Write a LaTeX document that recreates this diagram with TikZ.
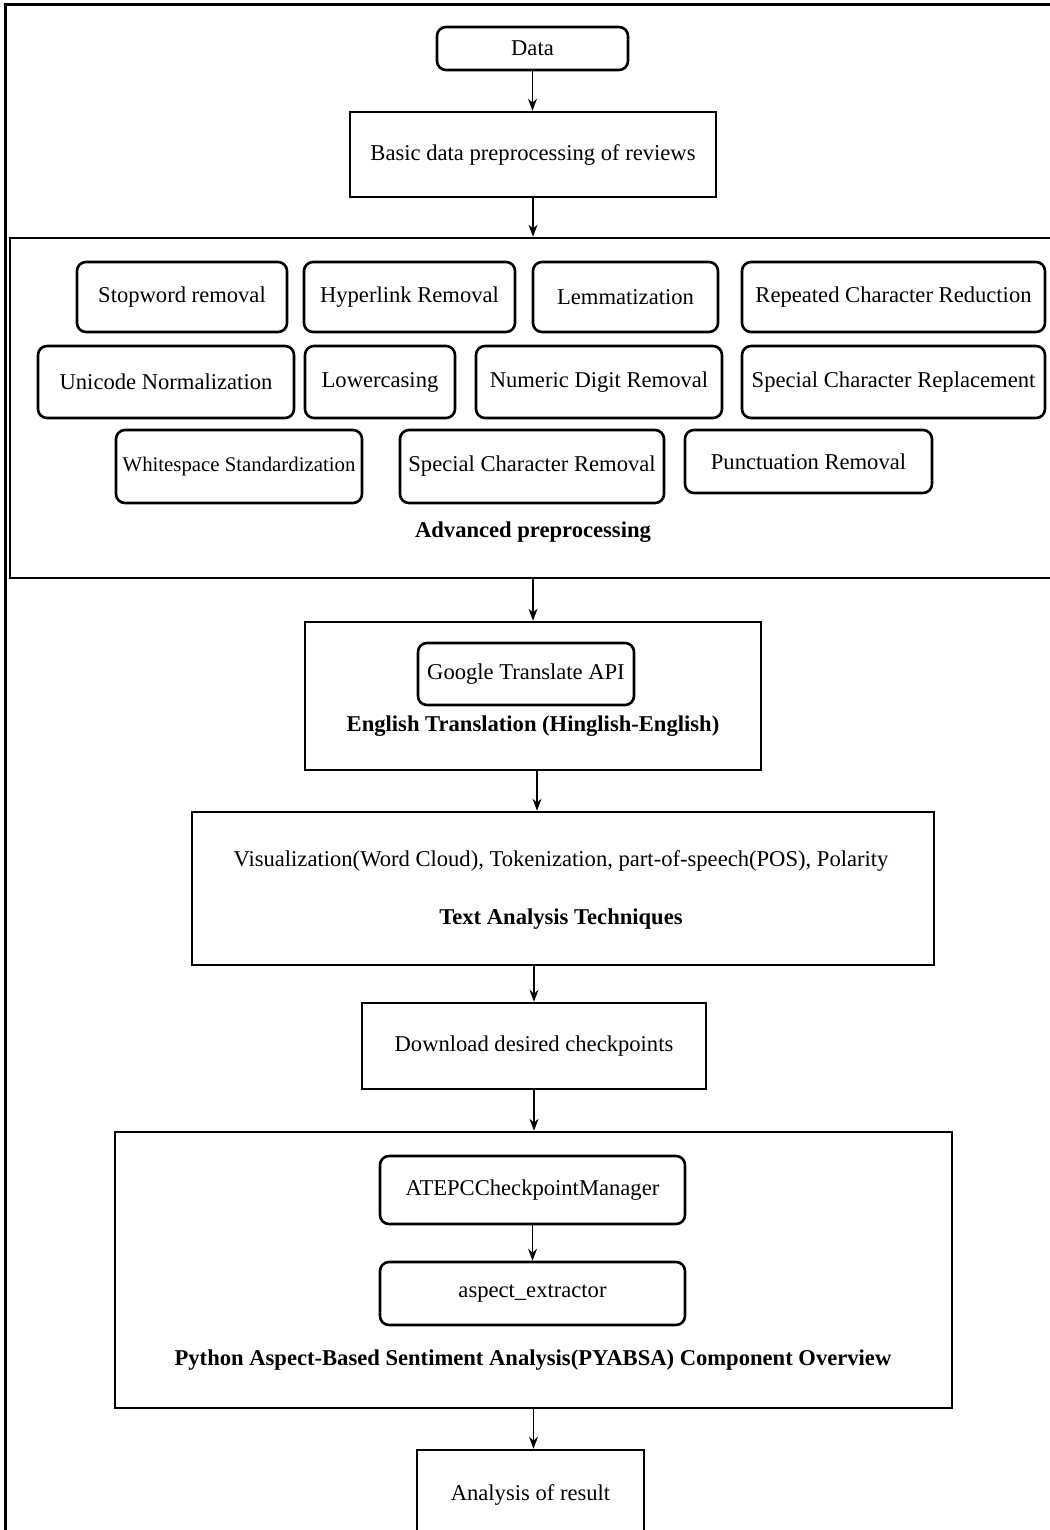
\documentclass[tikz,border=0pt]{standalone}
\usepackage{fontspec}
\setmainfont{Liberation Serif}
\usetikzlibrary{arrows.meta,calc}
\begin{document}
\begin{tikzpicture}[x=0.5pt,y=-0.5pt,
  wh/.style 2 args={minimum width=#1*0.5pt, minimum height=#2*0.5pt},
  pbox/.style={draw, line width=1.3pt, inner sep=0pt, font=\fontsize{11.3}{13}\selectfont},
  rbox/.style={draw, line width=1.3pt, rounded corners=4.5pt, inner sep=0pt, font=\fontsize{11.3}{13}\selectfont},
  lbl/.style={inner sep=0pt, font=\fontsize{11.3}{13}\selectfont},
  arr/.style={-{Stealth[length=6pt,width=4.5pt]}, line width=0.6pt}]
\useasboundingbox (0,0) rectangle (1049,1530);
% outer frame
\draw[line width=1.5pt] (5,1545) -- (5,5) -- (1060,5);

\node[rbox, wh={191}{43}] (data) at (532.5,48.5) {Data};
\node[pbox, wh={366}{85}] (basic) at (533,154.5) {Basic data preprocessing of reviews};

\node[pbox, wh={1060}{340}] (adv) at (540,408) {};
\node[rbox, wh={210}{70}] (stop) at (182,297) {Stopword removal};
\node[rbox, wh={211}{70}] (hyper) at (409.5,297) {Hyperlink Removal};
\node[rbox, wh={185}{70}] (lemma) at (625.5,297) {Lemmatization};
\node[rbox, wh={303}{70}] (rep) at (893.5,297) {Repeated Character Reduction};
\node[rbox, wh={256}{72}] (uni) at (166,382) {Unicode Normalization};
\node[rbox, wh={150}{72}] (low) at (380,382) {Lowercasing};
\node[rbox, wh={246}{72}] (num) at (599,382) {Numeric Digit Removal};
\node[rbox, wh={303}{72}] (srep) at (893.5,382) {Special Character Replacement};
\node[rbox, wh={246}{73}, font=\fontsize{10.4}{12}\selectfont] (white) at (239,466.5) {Whitespace Standardization};
\node[rbox, wh={264}{73}] (srem) at (532,466.5) {Special Character Removal};
\node[rbox, wh={247}{63}] (punct) at (808.5,461.5) {Punctuation Removal};
\node[lbl] (advlbl) at (533,532) {\bfseries Advanced preprocessing};

\node[pbox, wh={456}{148}] (eng) at (533,696) {};
\node[rbox, wh={216}{62}] (google) at (526,674) {Google Translate API};
\node[lbl] (englbl) at (533,726) {\bfseries English Translation (Hinglish-English)};

\node[pbox, wh={742}{153}] (text) at (563,888.5) {};
\node[lbl] (textitems) at (561,861) {Visualization(Word Cloud), Tokenization, part-of-speech(POS), Polarity};
\node[lbl] (textlbl) at (561,919) {\bfseries Text Analysis Techniques};

\node[pbox, wh={344}{86}] (down) at (534,1046) {Download desired checkpoints};

\node[pbox, wh={837}{276}] (py) at (533.5,1270) {};
\node[rbox, wh={305}{68}] (atepc) at (532.5,1190) {ATEPCCheckpointManager};
\node[rbox, wh={305}{63}] (aspect) at (532.5,1293.5) {aspect\_extractor};
\node[lbl] (pylbl) at (533,1360) {\bfseries Python Aspect-Based Sentiment Analysis(PYABSA) Component Overview};

\node[pbox, wh={227}{100}] (res) at (530.5,1500) {};
\node[lbl] (reslbl) at (530.5,1495) {Analysis of result};

\draw[arr] (data.south) -- (data.south |- basic.north);
\draw[arr] (basic.south) -- (basic.south |- adv.north);
\draw[arr] (advlbl.south |- adv.south) -- (advlbl.south |- eng.north);
\draw[arr] ($(eng.south)+(4,0)$) -- ($(eng.south |- text.north)+(4,0)$);
\draw[arr] (down.north |- text.south) -- (down.north);
\draw[arr] (down.south) -- (down.south |- py.north);
\draw[arr] (atepc.south) -- (aspect.north);
\draw[arr] (py.south) -- (py.south |- res.north);
\end{tikzpicture}
\end{document}
